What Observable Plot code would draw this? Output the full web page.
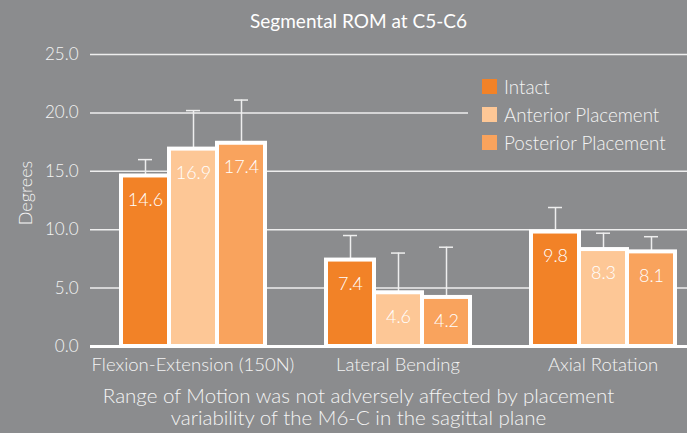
<!DOCTYPE html>
<html>
<head>
<meta charset="utf-8">
<script src="https://cdn.jsdelivr.net/npm/d3@7"></script>
<script src="https://cdn.jsdelivr.net/npm/@observablehq/plot@0.6"></script>
<style>
  html, body { margin: 0; padding: 0; background: #8b8c8e; overflow: hidden; }
  #wrap { position: relative; width: 687px; height: 433px; overflow: hidden; background: #8b8c8e;
          font-family: Lato, "Open Sans", sans-serif; color: #f4f4f4; }
  #title { position: absolute; left: 30px; width: 657px; top: 9px; text-align: center; font-size: 19px; color: #fff; font-weight: 400; }
  #plot { position: absolute; left: 0; top: 0; }
  #ylab { position: absolute; left: 25px; top: 193px; transform: translate(-50%, -50%) rotate(-90deg);
          font-size: 18px; white-space: nowrap; font-weight: 300; }
  #legend { position: absolute; left: 468px; width: 219px; top: 62px; padding: 10px 0 10px 14px; box-sizing: border-box;
            background: #8b8c8e; font-size: 18.8px; font-weight: 300; }
  .row { display: flex; align-items: center; height: 28px; }
  .sw { width: 15px; height: 15px; margin-right: 7px; flex: none; }
  #caption { position: absolute; left: 30px; width: 657px; top: 384px; text-align: center;
             font-size: 20.5px; line-height: 22px; font-weight: 300; }
  #caption div { height: 22px; overflow: visible; }
</style>
</head>
<body>
<div id="wrap">
  <div id="title"></div>
  <div id="plot"></div>
  <div id="ylab"></div>
  <div id="legend"></div>
  <div id="caption"></div>
</div>
<script>
const title = "Segmental ROM at C5-C6";
const yLabel = "Degrees";
const captionLines = ["Range of Motion was not adversely affected by placement", "variability of the M6-C in the sagittal plane"];
const categories = ["Flexion-Extension (150N)", "Lateral Bending", "Axial Rotation"];
const series = ["Intact", "Anterior Placement", "Posterior Placement"];
const intact = [14.6, 7.4, 9.8];
const anterior = [16.9, 4.6, 8.3];
const posterior = [17.4, 4.2, 8.1];
const intactSD = [1.4, 2.1, 2.1];
const anteriorSD = [3.3, 3.4, 1.4];
const posteriorSD = [3.7, 4.3, 1.3];
const yTicks = [0, 5, 10, 15, 20, 25];
const colors = ["#f28227", "#fdc796", "#f9a35d"];

const values = [intact, anterior, posterior];
const sds = [intactSD, anteriorSD, posteriorSD];
const rows = [];
categories.forEach((c, i) => series.forEach((s, j) => rows.push({category: c, series: s, value: values[j][i], sd: sds[j][i]})));

document.getElementById("title").textContent = title;
document.getElementById("ylab").textContent = yLabel;
document.getElementById("caption").innerHTML = captionLines.map(l => `<div>${l}</div>`).join("");
document.getElementById("legend").innerHTML = series.map((s, j) =>
  `<div class="row"><div class="sw" style="background:${colors[j]}"></div><span>${s}</span></div>`).join("");

const chart = Plot.plot({
  width: 705,
  height: 380,
  marginLeft: 90,
  marginRight: 0,
  marginTop: 54,
  marginBottom: 34,
  style: {background: "transparent", color: "#f4f4f4", fontFamily: "Lato, 'Open Sans', sans-serif", fontSize: "17px", fontWeight: 300, maxWidth: "none"},
  fx: {domain: categories, padding: 0, label: null},
  x: {domain: series, paddingInner: 0, paddingOuter: 0.6, axis: null},
  y: {domain: [0, 25], axis: null},
  color: {domain: series, range: colors},
  marks: [
    Plot.gridY(yTicks, {stroke: "#eeeeee", strokeOpacity: 1, strokeWidth: 1.5}),
    Plot.axisY(yTicks, {tickFormat: d => d.toFixed(1), tickSize: 0, tickPadding: 12, label: null, fontSize: 17}),
    Plot.axisFx({anchor: "bottom", tickSize: 0, tickPadding: 11, label: null, fontSize: 18.5}),
    Plot.ruleY([0], {stroke: "white", strokeWidth: 3}),
    Plot.ruleX(rows, {fx: "category", x: "series", y1: "value", y2: d => d.value + d.sd, stroke: "#eeeeee", strokeWidth: 1.5}),
    Plot.tickY(rows, {fx: "category", x: "series", y: d => d.value + d.sd, stroke: "#eeeeee", strokeWidth: 1.5, insetLeft: 17, insetRight: 17}),
    Plot.barY(rows, {fx: "category", x: "series", y: "value", fill: "series", stroke: "white", strokeWidth: 4}),
    Plot.text(rows, {fx: "category", x: "series", y: "value", text: d => d.value.toFixed(1), dy: 24, fill: "white", fontSize: 18, fontWeight: 300})
  ]
});
document.getElementById("plot").appendChild(chart);
</script>
</body>
</html>
